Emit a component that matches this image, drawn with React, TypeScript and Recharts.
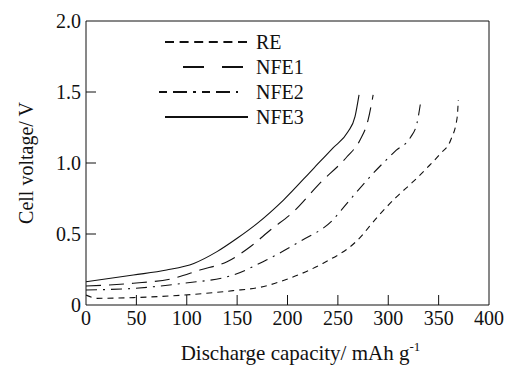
import { LineChart, Line, XAxis, YAxis, Legend, ReferenceLine } from 'recharts';

// discharge capacity (mAh/g) and cell voltage (V)
const reCap = [0, 11, 47, 97, 146, 173, 202, 235, 268, 291, 308, 325, 337, 352, 362, 368.5, 369.5];
const reVolt = [0.07, 0.047, 0.052, 0.07, 0.101, 0.125, 0.188, 0.293, 0.446, 0.634, 0.76, 0.87, 0.955, 1.068, 1.162, 1.326, 1.444];

const nfe1Cap = [0, 47, 87, 113, 140, 163, 183, 206, 232, 259, 272, 280, 285];
const nfe1Volt = [0.134, 0.153, 0.188, 0.246, 0.305, 0.41, 0.528, 0.657, 0.857, 1.044, 1.162, 1.303, 1.48];

const nfe2Cap = [0, 47, 97, 146, 179, 212, 245, 259, 285, 308, 322, 328.5, 332.5];
const nfe2Volt = [0.106, 0.117, 0.153, 0.211, 0.317, 0.446, 0.599, 0.716, 0.927, 1.09, 1.18, 1.28, 1.444];

const nfe3Cap = [0, 47, 80, 107, 130, 150, 170, 196, 226, 245, 260, 267, 271];
const nfe3Volt = [0.164, 0.211, 0.246, 0.293, 0.376, 0.47, 0.575, 0.739, 0.963, 1.105, 1.22, 1.326, 1.48];

const xTicks = [0, 50, 100, 150, 200, 250, 300, 350, 400];
const yTicks = [0, 0.5, 1, 1.5, 2];

const zip = (cap: number[], volt: number[]) => cap.map((c, i) => ({ cap: c, v: volt[i] }));

const SERIES = [
  { name: 'RE', data: zip(reCap, reVolt), dash: '6 5', legendDash: '9 5.6', x1: 15, x2: 98 },
  { name: 'NFE1', data: zip(nfe1Cap, nfe1Volt), dash: '15 8', legendDash: '21 18', x1: 33, x2: 95 },
  { name: 'NFE2', data: zip(nfe2Cap, nfe2Volt), dash: '11 6 2 6', legendDash: '8 6 14 6 3 6', x1: 9, x2: 88 },
  { name: 'NFE3', data: zip(nfe3Cap, nfe3Volt), dash: undefined, legendDash: undefined, x1: 15, x2: 98 },
];

const FONT = "'Liberation Serif', 'DejaVu Serif Condensed', 'DejaVu Serif', serif";
const TXT = { fontFamily: FONT, fontStretch: 'condensed' } as const;
const WIDE = { fontFamily: "'Liberation Serif', 'DejaVu Serif', serif" } as const;
const FS = 20;
const INK = '#111';
const TICK_LEN = 10;

function LeftTick({ x, y, payload }: any) {
  const v = payload.value;
  return (
    <g>
      <text x={x} y={y} dy="0.36em" textAnchor="end" style={TXT} fontSize={FS} fill={INK}>
        {v === 0 ? '0' : v.toFixed(1)}
      </text>
      {v > 0 && v < 2 && <line x1={x + 5} x2={x + 5 + TICK_LEN} y1={y} y2={y} stroke={INK} />}
    </g>
  );
}

function RightTick({ x, y }: any) {
  return <line x1={x} x2={x - TICK_LEN} y1={y} y2={y} stroke={INK} />;
}

function BottomTick({ x, y, payload }: any) {
  const v = payload.value;
  return (
    <g>
      <text x={x} y={y} dy="0.71em" textAnchor="middle" style={TXT} fontSize={FS} fill={INK}>
        {v}
      </text>
      {v > 0 && v < 400 && <line x1={x} x2={x} y1={y - 6} y2={y - 6 - TICK_LEN} stroke={INK} />}
    </g>
  );
}

function XLabel({ viewBox }: any) {
  const cx = viewBox.x + viewBox.width / 2 + 13;
  return (
    <text x={cx} y={360} textAnchor="middle" style={WIDE} fontSize={21} fill={INK}>
      Discharge capacity/ mAh g<tspan dy={-9} fontSize={13}>-1</tspan>
    </text>
  );
}

function YLabel({ viewBox }: any) {
  const cy = viewBox.y + viewBox.height / 2;
  return (
    <text x={26} y={cy} transform={`rotate(-90 26 ${cy})`} dy="0.36em" textAnchor="middle"
      style={TXT} fontSize={FS} fill={INK}>
      Cell voltage/ V
    </text>
  );
}

function LegendBox() {
  return (
    <svg width={160} height={110}>
      {SERIES.map((s, i) => {
        const y = 17 + i * 25;
        return (
          <g key={s.name}>
            <line x1={s.x1} x2={s.x2} y1={y} y2={y} stroke={INK} strokeWidth={2} strokeDasharray={s.legendDash} />
            <text x={106} y={y} dy="0.36em" style={TXT} fontSize={FS} fill={INK}>{s.name}</text>
          </g>
        );
      })}
    </svg>
  );
}

export default function App() {
  return (
    <div style={{ position: 'absolute', left: 0, top: 0, background: '#fff' }}>
      <LineChart width={511} height={365} margin={{ top: 21, right: 20, bottom: 20, left: 0 }}>
        <XAxis
          type="number"
          dataKey="cap"
          domain={[0, 400]}
          ticks={xTicks}
          allowDataOverflow
          tickSize={0}
          tickMargin={6}
          tickLine={false}
          axisLine={{ stroke: INK }}
          tick={<BottomTick />}
          height={40}
          label={<XLabel />}
        />
        <YAxis
          type="number"
          domain={[0, 2]}
          ticks={yTicks}
          tickSize={0}
          tickMargin={5}
          tickLine={false}
          axisLine={{ stroke: INK }}
          tick={<LeftTick />}
          width={86}
          label={<YLabel />}
        />
        <YAxis
          yAxisId="r"
          orientation="right"
          type="number"
          domain={[0, 2]}
          ticks={[0.5, 1, 1.5]}
          tickSize={0}
          tickMargin={0}
          tickLine={false}
          axisLine={{ stroke: INK }}
          tick={<RightTick />}
          width={2}
        />
        <ReferenceLine y={2} stroke={INK} ifOverflow="visible" />
        <Legend
          layout="vertical"
          align="center"
          verticalAlign="middle"
          content={<LegendBox />}
          wrapperStyle={{ position: 'absolute', left: 150, top: 25, width: 160, height: 110 }}
        />
        {SERIES.map((s) => (
          <Line
            key={s.name}
            name={s.name}
            data={s.data}
            dataKey="v"
            type="monotone"
            stroke={INK}
            strokeWidth={1.1}
            strokeDasharray={s.dash}
            dot={false}
            activeDot={false}
            isAnimationActive={false}
          />
        ))}
      </LineChart>
    </div>
  );
}
